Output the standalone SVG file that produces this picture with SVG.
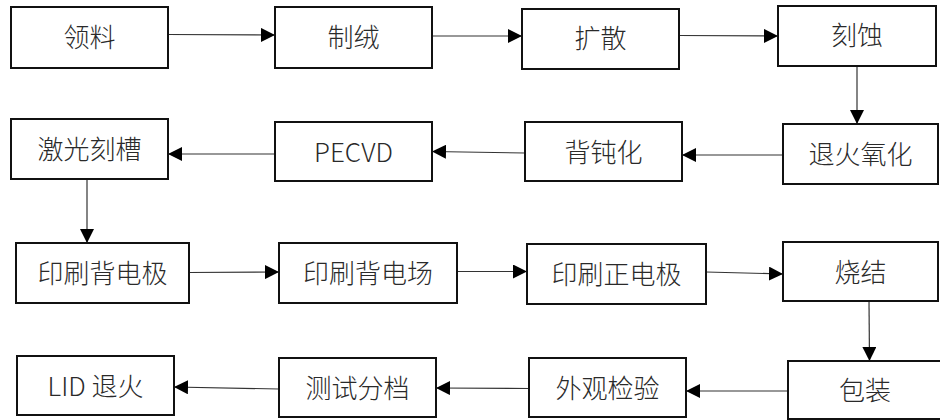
<svg xmlns="http://www.w3.org/2000/svg" width="940" height="420" viewBox="0 0 940 420">
<style>
.box{fill:#fff;stroke:#111;stroke-width:2}
.lbl{font-family:"Noto Sans CJK SC","Noto Sans",sans-serif;font-size:26px;font-weight:300;fill:#2a2a2a;text-anchor:middle;dominant-baseline:central}
.cn{fill:none;stroke:#333;stroke-width:1.2;marker-end:url(#ah)}
</style>
<defs>
<marker id="ah" viewBox="0 0 14 14" refX="14" refY="7" markerWidth="14" markerHeight="14" markerUnits="userSpaceOnUse" orient="auto">
<path d="M0,0 L14,7 L0,14 Z" fill="#000"/>
</marker>
</defs>
<rect width="940" height="420" fill="#fff"/>
<g id="connectors">
<line class="cn" x1="168" y1="34.5" x2="275" y2="35"/>
<line class="cn" x1="432" y1="36" x2="522" y2="36"/>
<line class="cn" x1="679" y1="35.5" x2="778" y2="36"/>
<line class="cn" x1="857" y1="66" x2="857" y2="124"/>
<line class="cn" x1="783" y1="155" x2="682" y2="155"/>
<line class="cn" x1="525" y1="153" x2="432" y2="151.5"/>
<line class="cn" x1="275" y1="154" x2="168" y2="154"/>
<line class="cn" x1="87" y1="179" x2="87" y2="243"/>
<line class="cn" x1="189" y1="272.5" x2="279" y2="272"/>
<line class="cn" x1="457" y1="271.5" x2="527" y2="271.5"/>
<line class="cn" x1="706" y1="272" x2="783" y2="274"/>
<line class="cn" x1="869" y1="301" x2="869.5" y2="361"/>
<line class="cn" x1="788" y1="391" x2="686" y2="391"/>
<line class="cn" x1="529" y1="388.5" x2="436" y2="388"/>
<line class="cn" x1="279" y1="389" x2="174" y2="387"/>
</g>
<g id="n1"><rect class="box" x="11" y="7" width="157" height="61"/><text class="lbl" x="89.5" y="35">领料</text></g>
<g id="n2"><rect class="box" x="275" y="7" width="157" height="61"/><text class="lbl" x="353.5" y="35">制绒</text></g>
<g id="n3"><rect class="box" x="522" y="9" width="157" height="60"/><text class="lbl" x="600.5" y="36.5">扩散</text></g>
<g id="n4"><rect class="box" x="778" y="6" width="158" height="60"/><text class="lbl" x="857" y="33.5">刻蚀</text></g>
<g id="n5"><rect class="box" x="783" y="124" width="155" height="60"/><text class="lbl" x="860.5" y="152">退火氧化</text></g>
<g id="n6"><rect class="box" x="525" y="122" width="157" height="59"/><text class="lbl" x="603.5" y="150">背钝化</text></g>
<g id="n7"><rect class="box" x="275" y="122" width="157" height="59"/><text class="lbl" x="353.5" y="150">PECVD</text></g>
<g id="n8"><rect class="box" x="11" y="119" width="157" height="60"/><text class="lbl" x="89.5" y="147">激光刻槽</text></g>
<g id="n9"><rect class="box" x="16" y="243" width="173" height="60"/><text class="lbl" x="102.5" y="271">印刷背电极</text></g>
<g id="n10"><rect class="box" x="279" y="243" width="178" height="60"/><text class="lbl" x="368" y="271">印刷背电场</text></g>
<g id="n11"><rect class="box" x="527" y="244" width="179" height="60"/><text class="lbl" x="616.5" y="272">印刷正电极</text></g>
<g id="n12"><rect class="box" x="783" y="242" width="155" height="59"/><text class="lbl" x="860.5" y="270">烧结</text></g>
<g id="n13"><rect class="box" x="788" y="361" width="170" height="58"/><text class="lbl" x="865" y="388">包装</text></g>
<g id="n14"><rect class="box" x="529" y="358" width="157" height="59"/><text class="lbl" x="607.5" y="386">外观检验</text></g>
<g id="n15"><rect class="box" x="279" y="358" width="157" height="59"/><text class="lbl" x="357.5" y="386">测试分档</text></g>
<g id="n16"><rect class="box" x="17" y="356" width="157" height="59"/><text class="lbl" x="95.5" y="384">LID 退火</text></g>
</svg>
